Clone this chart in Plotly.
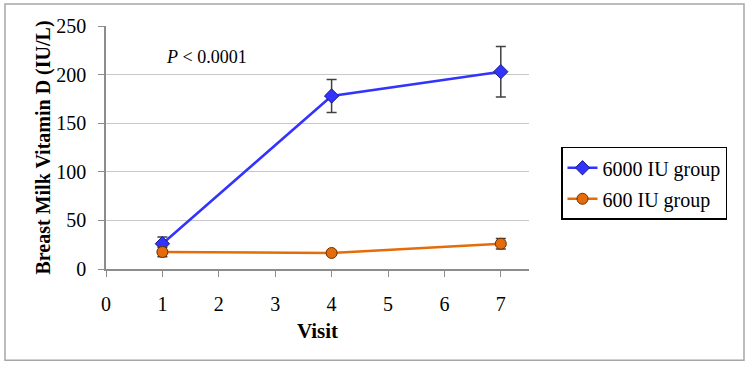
import plotly.graph_objects as go

visits = [1, 4, 7]
high_dose = [26, 178, 203]
high_err = [7, 17, 26]
low_dose = [17.5, 16.5, 26]
low_err = [5, 2, 5.5]
x_ticks = [0, 1, 2, 3, 4, 5, 6, 7]
y_ticks = [0, 50, 100, 150, 200, 250]

FONT = "Liberation Serif"

fig = go.Figure()
fig.add_trace(go.Scatter(
    x=visits, y=high_dose, name="6000 IU group", mode="lines+markers",
    legendgroup="a",
    line=dict(color="#3333FF", width=2.5),
    marker=dict(symbol="diamond", size=11, color="#3333FF",
                line=dict(color="#1a1a80", width=1)),
    error_y=dict(type="data", array=high_err, color="#404040", thickness=1.5, width=5),
))
fig.add_trace(go.Scatter(
    x=visits, y=low_dose, name="600 IU group", mode="lines+markers",
    legendgroup="b",
    line=dict(color="#E46C0A", width=2.5),
    marker=dict(symbol="circle", size=11, color="#E46C0A",
                line=dict(color="#6b3000", width=1)),
    error_y=dict(type="data", array=low_err, color="#404040", thickness=1.5, width=5),
))

L, R, T, B = 106, 529, 26, 269.5
W, H = 751, 367
pw, ph = R - L, B - T

def px(x):
    return (x - L) / pw

def py(y):
    return (B - y) / ph

fig.update_layout(
    width=W, height=H,
    margin=dict(l=L, r=W - R, t=T, b=H - B, pad=0),
    paper_bgcolor="white", plot_bgcolor="white",
    font=dict(family=FONT, size=20, color="black"),
    showlegend=True,
    legend=dict(
        x=px(561), y=py(147), xanchor="left", yanchor="top",
        bordercolor="black", borderwidth=1.5, bgcolor="white",
        font=dict(family=FONT, size=20, color="black"),
        traceorder="grouped", tracegroupgap=2,
    ),
    xaxis=dict(
        range=[0, 7.5], tickvals=x_ticks, ticktext=[str(v) for v in x_ticks],
        showgrid=False, zeroline=False, showline=True, linecolor="#8c8c8c", linewidth=1.5,
        ticks="outside", ticklen=6, tickcolor="#8c8c8c", tickwidth=1,
        ticklabelstandoff=10,
        tickfont=dict(family=FONT, size=20),
        title=dict(text="<b>Visit</b>", font=dict(family=FONT, size=21), standoff=10),
    ),
    yaxis=dict(
        range=[0, 250], tickvals=y_ticks,
        showgrid=True, gridcolor="#c8c8c8", gridwidth=1.2, zeroline=False,
        showline=True, linecolor="#8c8c8c", linewidth=1.5,
        ticks="outside", ticklen=6, tickcolor="#8c8c8c",
        ticklabelstandoff=8,
        tickfont=dict(family=FONT, size=20),
        title=dict(text="<b>Breast Milk Vitamin D (IU/L)</b>", font=dict(family=FONT, size=20), standoff=0),
    ),
    annotations=[dict(
        x=px(164), y=py(57), xref="paper", yref="paper", xanchor="left", yanchor="middle",
        text="<i>P</i> &lt; 0.0001", showarrow=False, font=dict(family=FONT, size=18),
    )],
    shapes=[dict(
        type="rect", xref="paper", yref="paper",
        x0=px(5), x1=px(744), y0=py(361), y1=py(4),
        line=dict(color="#a6a6a6", width=1.5), layer="below",
    )],
)

fig.write_html("out.html", config={"displayModeBar": False},
               post_script="document.body.style.margin='0';")
